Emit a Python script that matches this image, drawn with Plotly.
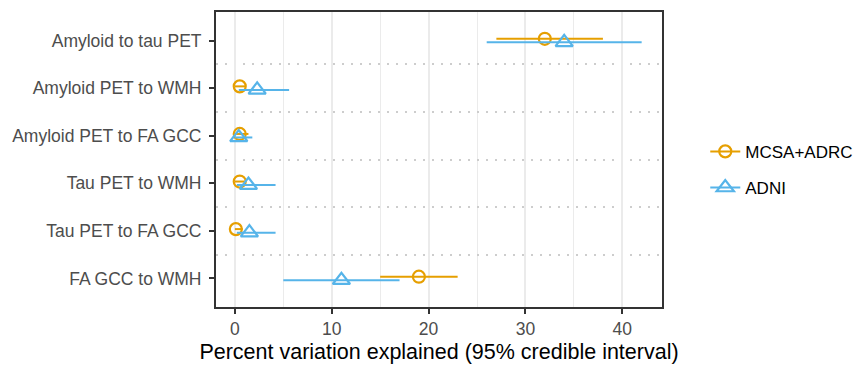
import plotly.graph_objects as go

# ---- data -------------------------------------------------------------
categories = [
    "Amyloid to tau PET",
    "Amyloid PET to WMH",
    "Amyloid PET to FA GCC",
    "Tau PET to WMH",
    "Tau PET to FA GCC",
    "FA GCC to WMH",
]
series_names = ["MCSA+ADRC", "ADNI"]

mcsa_est = [32.0, 0.5, 0.5, 0.5, 0.1, 19.0]
mcsa_lo = [27.0, 0.0, 0.0, 0.0, 0.0, 15.0]
mcsa_hi = [38.0, 1.1, 1.4, 1.0, 0.8, 23.0]

adni_est = [34.0, 2.3, 0.4, 1.4, 1.5, 11.0]
adni_lo = [26.0, 0.4, 0.0, 0.2, 0.2, 5.0]
adni_hi = [42.0, 5.6, 1.8, 4.2, 4.2, 17.0]

x_ticks = [0, 10, 20, 30, 40]

# ---- style ------------------------------------------------------------
ORANGE = "#E69F00"
BLUE = "#56B4E9"
FONT = "Liberation Sans, Arial, Helvetica, sans-serif"
DODGE = 0.037

series = [
    dict(name=series_names[0], est=mcsa_est, lo=mcsa_lo, hi=mcsa_hi,
         color=ORANGE, symbol="circle-open", size=12, offset=-DODGE),
    dict(name=series_names[1], est=adni_est, lo=adni_lo, hi=adni_hi,
         color=BLUE, symbol="triangle-up-open", size=15, offset=DODGE),
]

fig = go.Figure()
for s in series:
    ypos = [i + s["offset"] for i in range(len(categories))]
    fig.add_trace(go.Scatter(
        x=s["est"], y=ypos, mode="markers", name=s["name"], showlegend=False,
        legendgroup=s["name"],
        marker=dict(symbol=s["symbol"], size=s["size"], color=s["color"],
                    line=dict(width=2.2, color=s["color"])),
        error_x=dict(type="data", symmetric=False,
                     array=[h - e for h, e in zip(s["hi"], s["est"])],
                     arrayminus=[e - l for e, l in zip(s["est"], s["lo"])],
                     color=s["color"], thickness=2, width=0),
        hoverinfo="x+name",
    ))
# legend entries (line through marker, like the reference key)
for s in series:
    fig.add_trace(go.Scatter(
        x=[None], y=[None], mode="lines+markers", name=s["name"],
        legendgroup=s["name"],
        line=dict(color=s["color"], width=2),
        marker=dict(symbol=s["symbol"], size=s["size"], color=s["color"],
                    line=dict(width=2.2, color=s["color"])),
    ))

fig.update_layout(
    width=868, height=370,
    margin=dict(l=216, r=204, t=10, b=58, pad=0),
    paper_bgcolor="white", plot_bgcolor="white",
    font=dict(family=FONT, size=17.5, color="#4D4D4D"),
    showlegend=True,
    legend=dict(
        x=1.097, xanchor="left", y=0.465, yanchor="middle",
        font=dict(family=FONT, size=17, color="black"),
        traceorder="grouped", tracegroupgap=11,
        bgcolor="rgba(0,0,0,0)",
    ),
    xaxis=dict(
        range=[-1.95, 44.1],
        tickvals=x_ticks, ticktext=[str(v) for v in x_ticks],
        showgrid=True, gridcolor="#EBEBEB", gridwidth=2,
        minor=dict(dtick=5, tick0=5, showgrid=True, gridcolor="#EBEBEB",
                   gridwidth=1.2, ticks=""),
        zeroline=False,
        showline=True, mirror=True, linecolor="#333333", linewidth=2,
        ticks="outside", ticklen=5, tickwidth=2, tickcolor="#333333",
        tickfont=dict(family=FONT, size=17.5, color="#4D4D4D"),
        title=dict(text="Percent variation explained (95% credible interval)",
                   font=dict(family=FONT, size=21.5, color="black"),
                   standoff=6),
    ),
    yaxis=dict(
        range=[len(categories) - 0.4, -0.6],
        tickvals=list(range(len(categories))), ticktext=categories,
        showgrid=False, zeroline=False,
        minor=dict(tickvals=[i + 0.5 for i in range(len(categories) - 1)],
                   showgrid=True, gridcolor="#CDCDCD", gridwidth=1.5,
                   griddash="1.5px,7.5px", ticks=""),
        showline=True, mirror=True, linecolor="#333333", linewidth=2,
        ticks="outside", ticklen=5, tickwidth=2, tickcolor="#333333",
        tickfont=dict(family=FONT, size=17.5, color="#4D4D4D"),
        ticklabelstandoff=4,
    ),
)

fig.write_html("out.html")
